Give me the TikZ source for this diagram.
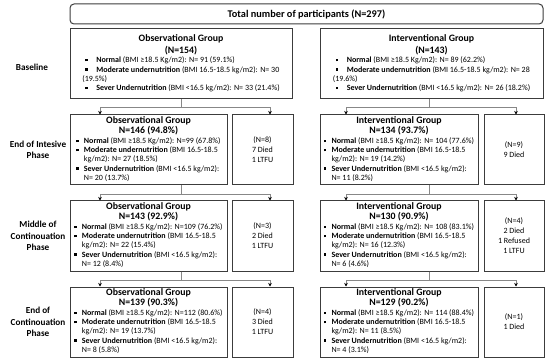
\documentclass[tikz,border=0pt]{standalone}
\usepackage{fontspec}
\setmainfont{Carlito}
\usetikzlibrary{positioning,arrows.meta}
\definecolor{boxline}{RGB}{60,60,60}
\definecolor{linkline}{RGB}{135,135,135}
\newcommand{\gline}[1]{\multicolumn{1}{@{}c@{}}{\fontsize{9.8}{11}\selectfont\bfseries #1}}
\newcommand{\sqbul}{\raisebox{1.4pt}{\rule{2.4pt}{2.4pt}}}
\newcommand{\bitem}[2]{\makebox[7.5pt][l]{\sqbul}\textbf{#1} #2}
\newcommand{\bcont}{\hspace*{7.5pt}}
\newcommand{\bbase}[2]{\hspace*{3pt}\makebox[11pt][l]{\sqbul}\textbf{#1} #2}

\begin{document}
\begin{tikzpicture}[x=1pt,y=1pt,
  node distance=15pt and 4pt,
  total/.style={rectangle,draw=boxline,line width=1pt,rounded corners=4pt,minimum width=473pt,minimum height=20pt,inner sep=0pt,font=\fontsize{10.3}{12}\selectfont\bfseries},
  grp/.style={rectangle,draw=boxline,line width=1pt,minimum height=70pt,inner sep=0.5pt,font=\fontsize{8}{9.2}\selectfont},
  lost/.style={rectangle,draw=boxline,line width=1pt,minimum height=70pt,inner sep=1pt,align=center,font=\fontsize{8}{10}\selectfont},
  phase/.style={align=center,font=\fontsize{9.2}{11.3}\selectfont\bfseries},
  link/.style={draw=linkline,line width=0.6pt},
  arrow/.style={link,-{Stealth[length=3.5pt,width=3.5pt,black]}}
]
\useasboundingbox (0,0) rectangle (550,-361);
\node[total] (total) at (306.5,-14) {Total number of participants (N=297)};
% baseline
\node[grp,minimum width=222pt,below=4pt of total.south west,anchor=north west] (obs0) {\begin{tabular}{@{}l@{}}
  \gline{Observational Group}\\[1.5pt]
  \gline{(N=154)}\\[0.5pt]
  \bbase{Normal}{(BMI ≥18.5 Kg/m2): N= 91 (59.1\%)}\\
  \bbase{Moderate undernutrition}{(BMI 16.5-18.5 kg/m2): N= 30}\\
  (19.5\%)\\
  \bbase{Sever Undernutrition}{(BMI <16.5 kg/m2): N= 33 (21.4\%)}
  \end{tabular}};
\node[grp,minimum width=223pt,below=4pt of total.south east,anchor=north east] (int0) {\begin{tabular}{@{}l@{}}
  \gline{Interventional Group}\\[1.5pt]
  \gline{(N=143)}\\[0.5pt]
  \bbase{Normal}{(BMI ≥18.5 Kg/m2): N= 89 (62.2\%)}\\
  \bbase{Moderate undernutrition}{(BMI 16.5-18.5 kg/m2): N= 28}\\
  (19.6\%)\\
  \bbase{Sever Undernutrition}{(BMI <16.5 kg/m2): N= 26 (18.2\%)}
  \end{tabular}};
% end of intensive phase
\node[grp,minimum width=157pt,below=15pt of obs0.south west,anchor=north west] (obs1) {\begin{tabular}{@{}l@{}}
  \gline{Observational Group}\\
  \gline{N=146 (94.8\%)}\\[0.5pt]
  \bitem{Normal}{(BMI ≥18.5 Kg/m2): N=99 (67.8\%)}\\
  \bitem{Moderate undernutrition}{(BMI 16.5-18.5}\\
  \bcont kg/m2): N= 27 (18.5\%)\\
  \bitem{Sever Undernutrition}{(BMI <16.5 kg/m2):}\\
  \bcont N= 20 (13.7\%)
  \end{tabular}};
\node[lost,minimum width=61pt,right=of obs1] (lost1) {(N=8)\\ 7 Died\\ 1 LTFU};
\node[grp,minimum width=158pt,below=15pt of int0.south west,anchor=north west] (int1) {\begin{tabular}{@{}l@{}}
  \gline{Interventional Group}\\
  \gline{N=134 (93.7\%)}\\[0.5pt]
  \bitem{Normal}{(BMI ≥18.5 Kg/m2): N= 104 (77.6\%)}\\
  \bitem{Moderate undernutrition}{(BMI 16.5-18.5}\\
  \bcont kg/m2): N= 19 (14.2\%)\\
  \bitem{Sever Undernutrition}{(BMI <16.5 kg/m2):}\\
  \bcont N= 11 (8.2\%)
  \end{tabular}};
\node[lost,minimum width=60pt,right=5pt of int1] (lostI1) {(N=9)\\ 9 Died};
% middle of continuation phase
\node[grp,minimum width=157pt,below=of obs1] (obs2) {\begin{tabular}{@{}l@{}}
  \gline{Observational Group}\\
  \gline{N=143 (92.9\%)}\\[0.5pt]
  \bitem{Normal}{(BMI ≥18.5 Kg/m2): N=109 (76.2\%)}\\
  \bitem{Moderate undernutrition}{(BMI 16.5-18.5}\\
  \bcont kg/m2): N= 22 (15.4\%)\\
  \bitem{Sever Undernutrition}{(BMI <16.5 kg/m2):}\\
  \bcont N= 12 (8.4\%)
  \end{tabular}};
\node[lost,minimum width=61pt,right=of obs2] (lost2) {(N=3)\\ 2 Died\\ 1 LTFU};
\node[grp,minimum width=158pt,below=of int1] (int2) {\begin{tabular}{@{}l@{}}
  \gline{Interventional Group}\\
  \gline{N=130 (90.9\%)}\\[0.5pt]
  \bitem{Normal}{(BMI ≥18.5 Kg/m2): N= 108 (83.1\%)}\\
  \bitem{Moderate undernutrition}{(BMI 16.5-18.5}\\
  \bcont kg/m2): N= 16 (12.3\%)\\
  \bitem{Sever Undernutrition}{(BMI <16.5 kg/m2):}\\
  \bcont N= 6 (4.6\%)
  \end{tabular}};
\node[lost,minimum width=60pt,right=5pt of int2] (lostI2) {(N=4)\\ 2 Died\\ 1 Refused\\ 1 LTFU};
% end of continuation phase
\node[grp,minimum width=157pt,below=of obs2] (obs3) {\begin{tabular}{@{}l@{}}
  \gline{Observational Group}\\
  \gline{N=139 (90.3\%)}\\[0.5pt]
  \bitem{Normal}{(BMI ≥18.5 Kg/m2): N=112 (80.6\%)}\\
  \bitem{Moderate undernutrition}{(BMI 16.5-18.5}\\
  \bcont kg/m2): N= 19 (13.7\%)\\
  \bitem{Sever Undernutrition}{(BMI <16.5 kg/m2):}\\
  \bcont N= 8 (5.8\%)
  \end{tabular}};
\node[lost,minimum width=61pt,right=of obs3] (lost3) {(N=4)\\ 3 Died\\ 1 LTFU};
\node[grp,minimum width=158pt,below=of int2] (int3) {\begin{tabular}{@{}l@{}}
  \gline{Interventional Group}\\
  \gline{N=129 (90.2\%)}\\[0.5pt]
  \bitem{Normal}{(BMI ≥18.5 Kg/m2): N= 114 (88.4\%)}\\
  \bitem{Moderate undernutrition}{(BMI 16.5-18.5}\\
  \bcont kg/m2): N= 11 (8.5\%)\\
  \bitem{Sever Undernutrition}{(BMI <16.5 kg/m2):}\\
  \bcont N= 4 (3.1\%)
  \end{tabular}};
\node[lost,minimum width=60pt,right=5pt of int3] (lostI3) {(N=1)\\ 1 Died};
% phase labels
\node[phase] (ph0) at (32,-67) {Baseline};
\node[phase] (ph1) at (38,0 |- obs1.west) {End of Intesive\\ Phase};
\node[phase] (ph2) at (38,0 |- obs2.west) {Middle of\\ Continouation\\ Phase};
\node[phase] (ph3) at (38,0 |- obs3.west) {End of\\ Continouation\\ Phase};
% connectors
\draw[arrow] (obs0.south) -- ++(0,-8) -| ([xshift=-48.5pt]obs1.north);
\draw[arrow] (obs0.south) -- ++(0,-8) -| ([xshift=7.5pt]lost1.north);
\draw[arrow] ([xshift=-2.5pt]int0.south) -- ++(0,-8) -| ([xshift=-53pt]int1.north);
\draw[arrow] ([xshift=-2.5pt]int0.south) -- ++(0,-8) -| ([xshift=2pt]lostI1.north);
\foreach \a/\b in {1/2,2/3} {
  \draw[arrow] ([xshift=32.5pt]obs\a.south) -- ++(0,-9) -| ([xshift=-48.5pt]obs\b.north);
  \draw[arrow] ([xshift=32.5pt]obs\a.south) -- ++(0,-9) -| ([xshift=7.5pt]lost\b.north);
  \draw[arrow] ([xshift=30pt]int\a.south) -- ++(0,-9) -| ([xshift=-53pt]int\b.north);
  \draw[arrow] ([xshift=30pt]int\a.south) -- ++(0,-9) -| ([xshift=2pt]lostI\b.north);
}
\end{tikzpicture}
\end{document}
